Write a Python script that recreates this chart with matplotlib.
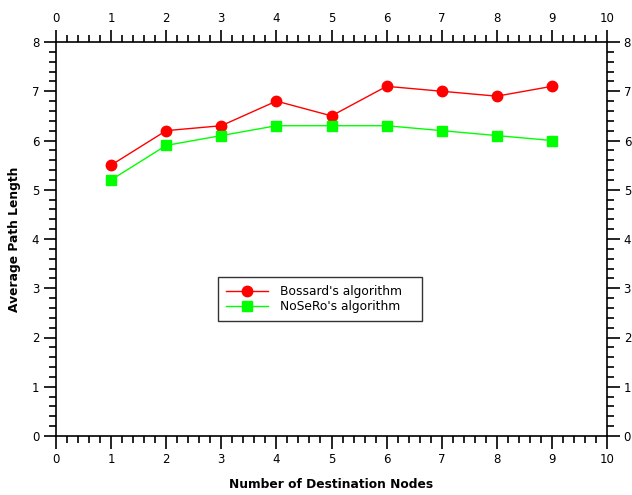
import matplotlib
matplotlib.use("Agg")
import matplotlib.pyplot as plt
from matplotlib.ticker import MultipleLocator

nodes = [1, 2, 3, 4, 5, 6, 7, 8, 9]
bossard = [5.5, 6.2, 6.3, 6.8, 6.5, 7.1, 7.0, 6.9, 7.1]
nosero = [5.2, 5.9, 6.1, 6.3, 6.3, 6.3, 6.2, 6.1, 6.0]

fig = plt.figure(figsize=(6.32, 4.95), dpi=100)
ax = fig.add_axes([56/632, 59/495, 551/632, 394/495])

ax.plot(nodes, bossard, color="#ff0000", lw=1.0, marker="o", markersize=7.5,
        label="Bossard's algorithm")
ax.plot(nodes, nosero, color="#00ff00", lw=1.0, marker="s", markersize=7.5,
        label="NoSeRo's algorithm")

ax.set_xlim(0, 10)
ax.set_ylim(0, 8)
ax.xaxis.set_major_locator(MultipleLocator(1))
ax.xaxis.set_minor_locator(MultipleLocator(0.2))
ax.yaxis.set_major_locator(MultipleLocator(1))
ax.yaxis.set_minor_locator(MultipleLocator(0.2))
ax.tick_params(which="both", direction="out", top=True, right=True,
               labeltop=True, labelright=True, labelsize=8.5, width=1.2,
               colors="black")
ax.tick_params(which="major", length=9, pad=3)
ax.tick_params(which="minor", length=5)
for s in ax.spines.values():
    s.set_linewidth(1.2)

ax.set_xlabel("Number of Destination Nodes", fontsize=8.8, fontweight="bold", labelpad=9)
ax.set_ylabel("Average Path Length", fontsize=8.8, fontweight="bold", labelpad=8)

x0 = (218 - 56) / 551
x1 = (422 - 56) / 551
y0 = (436 - 321) / 394
y1 = (436 - 277) / 394
leg = ax.legend(loc="upper left", bbox_to_anchor=(x0, y0, x1 - x0, y1 - y0),
                mode="expand", fontsize=8.8, frameon=True, fancybox=False,
                borderaxespad=0, handlelength=3.4, handletextpad=1.0,
                borderpad=0.65, labelspacing=0.2)
leg.get_frame().set_edgecolor("black")
leg.get_frame().set_linewidth(1.0)

fig.savefig("out.png", dpi=100)
